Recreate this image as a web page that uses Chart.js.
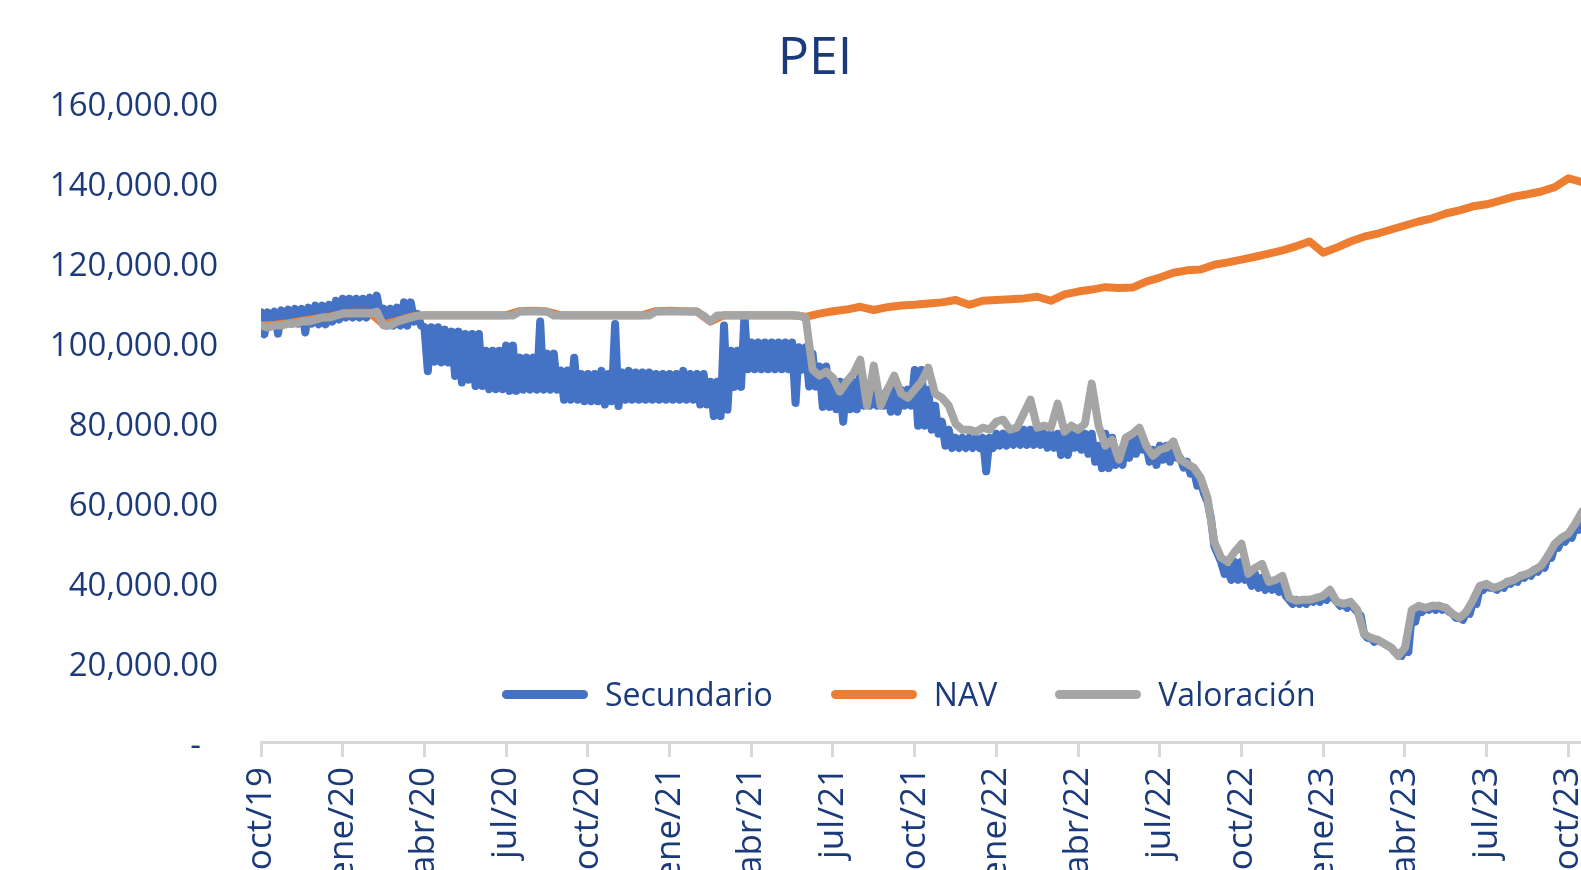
<!DOCTYPE html>
<html lang="es">
<head>
<meta charset="UTF-8">
<title>PEI</title>
<script src="https://cdn.jsdelivr.net/npm/chart.js"></script>
<style>
  html, body { margin: 0; padding: 0; background: #fff; overflow: hidden; }
  #wrap { position: relative; width: 1602px; height: 870px; }
  #legend { position: absolute; left: 502px; top: 672px; display: flex; align-items: center;
            font-family: 'Open Sans', sans-serif; font-size: 32px; color: #1b3a7a; line-height: 44px; }
  .item { display: flex; align-items: center; margin-right: 58px; }
  .swatch { width: 86px; height: 9px; border-radius: 5px; margin-right: 17px; }
</style>
</head>
<body>
<div id="wrap">
  <canvas id="peiChart"></canvas>
  <div id="legend"></div>
</div>
<script>
// eje x: meses desde oct/19, una marca por trimestre
const tickLabels = ['oct/19', 'ene/20', 'abr/20', 'jul/20', 'oct/20', 'ene/21', 'abr/21', 'jul/21', 'oct/21',
                    'ene/22', 'abr/22', 'jul/22', 'oct/22', 'ene/23', 'abr/23', 'jul/23', 'oct/23'];

// valores en miles, un dato por semana (0.25 mes)
const weekStep = 0.25;

// Secundario: máximo y mínimo de cada semana
const secundarioAlto = [
  107.3, 107.3, 107.5, 107.8,   108, 108.2, 108.2, 108.5,   109, 109, 109.2, 110.2,   110.7, 110.7, 110.7, 110.7,
  111, 111.5, 108.2, 108.2,   108.5, 109.8, 109.8, 106.9,   103.6, 103.6, 103.6, 103,   102.5, 102.5, 101.9, 101.9,
  101.9, 97.7, 97.7, 97.7,   99, 99, 96, 96,   96, 105, 97, 97,   92.8, 92.8, 96, 91.9,
  91.9, 91.9, 92.7, 91.9,   104.4, 92.3, 92.7, 92.3,   92.3, 92.3, 91.9, 91.9,   91.9, 91.9, 92.7, 91.9,
  91.9, 91.9, 90, 90,   104, 97.7, 97.7, 106.5,   99.8, 99.8, 99.8, 99.8,   99.8, 99.8, 99.8, 98.6,
  98.6, 97, 93.8, 93.8,   90, 90, 90, 90,   92, 88, 90, 87,   88, 88, 88, 88,
  92.9, 92.9, 88, 84,   80, 78, 76, 76,   76, 76, 76, 76,   77, 77, 77, 77,
  78, 78, 78, 77,   77, 77, 77, 77,   77, 77, 77, 74,   77, 76, 72, 74,
  76, 77, 74, 73,   74, 74, 75, 71,   70, 68, 65, 60,   49, 45, 43, 45,
  45, 41, 42, 41,   39.5, 40, 39.5, 35.5,   35.5, 35.5, 35.5, 36,   36.5, 37, 35, 34.5,
  34.5, 32.5, 27, 26,   25.5, 24.5, 23.5, 22,   23.5, 32, 33.5, 33.5,   34, 34, 33.5, 32,
  31, 32.5, 35, 38.5,   39, 38.5, 39, 40,   40.5, 41.5, 42, 43,   44, 46.5, 49, 50.5,
  51.5, 53.5, 57
];
const secundarioBajo = [
  101.8, 104, 102, 104.5,   104.5, 104.5, 102.3, 104.5,   104.3, 104.3, 105, 105.5,   106, 106, 106, 106,
  106.5, 107, 104, 104,   104, 104, 105, 104,   92.6, 95, 94.8, 94.8,   91.4, 89.8, 90.5, 88.9,
  88.9, 88.1, 88.1, 88.1,   87.7, 87.7, 88, 88,   88, 88, 88, 88,   85.5, 85.5, 85.5, 85.1,
  85.1, 85.1, 84.3, 85.1,   83.9, 85.5, 85.5, 85.5,   85.5, 85.5, 85.5, 85.5,   85.5, 85.5, 85.5, 85.5,
  84.3, 84.3, 81.4, 81.4,   83, 88.7, 88.7, 93.1,   93.1, 93.1, 93.1, 93.1,   93.1, 93.1, 84.7, 93,
  88.8, 88.8, 83.7, 83.7,   83.1, 80, 83.1, 83.1,   84, 84, 84, 84,   82.5, 82.5, 84, 84,
  79, 79, 78, 77,   74, 73.4, 73.4, 73.4,   73.4, 73.4, 67.6, 73.4,   74, 74, 74.2, 74.2,
  74.2, 74.2, 74.2, 73.5,   73.5, 71.7, 71.7, 73.5,   73, 72, 70, 68.4,   68.4, 69.2, 69.2, 71,
  72, 73, 70, 69.2,   70.5, 70, 71, 68.5,   67, 64, 62, 56,   47, 42, 40.5, 40.5,
  40.5, 39, 38.5, 38,   38, 37.5, 36.5, 34.5,   34.5, 34.5, 35, 35,   35.5, 36, 34, 33.5,
  33.5, 31.5, 26, 25,   25, 24, 22.5, 21.5,   22.5, 30, 32.5, 33,   33, 33, 32.5, 31,
  30.5, 32, 34.5, 38,   38.5, 38, 38.5, 39.5,   40, 41, 41.5, 42.5,   43.5, 46, 48.5, 50,
  51, 53, 56.5
];
const valoracion = [
  104, 103.5, 104, 104,   104.5, 104.5, 105, 105,   105.5, 106, 106, 106.5,   107, 107, 107, 107,
  107, 107.5, 104, 104,   105, 105.5, 106, 106.5,   106.5, 106.5, 106.5, 106.5,   106.5, 106.5, 106.5, 106.5,
  106.5, 106.5, 106.5, 106.5,   106.5, 106.5, 107.5, 107.5,   107.5, 107.5, 107.5, 106.5,   106.5, 106.5, 106.5, 106.5,
  106.5, 106.5, 106.5, 106.5,   106.5, 106.5, 106.5, 106.5,   106.5, 106.5, 107.5, 107.5,   107.5, 107.5, 107.5, 107.5,
  107.5, 106.5, 105, 106.5,   106.5, 106.5, 106.5, 106.5,   106.5, 106.5, 106.5, 106.5,   106.5, 106.5, 106.5, 106.5,
  106, 93, 91.5, 92.5,   91, 87.5, 90, 92,   95.5, 84, 94, 84,   88, 91.5, 87, 86,
  88, 90, 93.5, 87,   86, 84, 79.5, 78,   78, 77.5, 78.5, 78,   80, 80.5, 78, 78.5,
  82, 85.5, 78.5, 79,   78.5, 84.5, 77.5, 79,   78, 79.5, 89.5, 79,   74, 75.5, 70.5, 76,
  77, 78.5, 74, 71.5,   73, 73.5, 75, 70.5,   69.5, 68.5, 66, 61,   50, 46, 45, 47.5,
  49.5, 42, 43.5, 44.5,   40, 40.5, 41.5, 36,   35.3, 35.5, 35.5, 36,   36.5, 38, 35, 34.5,
  35, 33, 27, 26,   25.5, 24.5, 23.5, 21.5,   23.5, 33, 34, 33.5,   34, 34, 33.5, 32,
  31, 32.5, 35.5, 39,   39.5, 38.5, 39, 40,   40.5, 41.5, 42, 43,   44, 46.5, 49.5, 51,
  52, 54.5, 57.5
];

// NAV, un dato cada medio mes
const navStep = 0.5;
const nav = [
  104, 104.2, 104.6, 105.2, 105.7, 106.2, 107, 107.2, 107.2, 104.3,
  105.2, 106.2, 106.6, 106.6, 106.6, 106.6, 106.6, 106.6, 106.6, 107.6,
  107.7, 107.5, 106.6, 106.6, 106.6, 106.6, 106.6, 106.6, 106.6, 107.6,
  107.7, 107.6, 107.5, 105, 106.6, 106.6, 106.6, 106.6, 106.6, 106.6,
  106.2, 107, 107.6, 108, 108.7, 107.9, 108.6, 109, 109.2, 109.5,
  109.8, 110.4, 109.2, 110.2, 110.4, 110.6, 110.8, 111.2, 110.2, 111.8,
  112.5, 113, 113.6, 113.4, 113.5, 115, 116, 117.2, 117.8, 118,
  119.2, 119.8, 120.5, 121.2, 122, 122.8, 123.8, 125, 122.2, 123.5,
  125, 126.2, 127, 128, 129, 130, 130.8, 132, 132.8, 133.8,
  134.3, 135.2, 136.2, 136.8, 137.5, 138.6, 140.8, 139.8
];

const textColor = '#1b3a7a';
const fontFamily = "'Open Sans', sans-serif";

function toPoints(values, step) {
  return values.map((v, i) => ({ x: i * step, y: v * 1000 }));
}

// alterna máximo y mínimo de cada semana para dibujar la banda de ruido diario
function bandPoints(alto, bajo, step) {
  const pts = [];
  alto.forEach((v, i) => {
    pts.push({ x: i * step, y: v * 1000 });
    pts.push({ x: i * step + step / 2, y: bajo[i] * 1000 });
  });
  return pts;
}

function lineSet(label, points, color, order) {
  return {
    label: label,
    data: points,
    borderColor: color,
    backgroundColor: color,
    borderWidth: 8,
    pointRadius: 0,
    borderJoinStyle: 'round',
    borderCapStyle: 'round',
    tension: 0,
    order: order
  };
}

const chart = new Chart(document.getElementById('peiChart'), {
  type: 'line',
  data: {
    datasets: [
      lineSet('Secundario', bandPoints(secundarioAlto, secundarioBajo, weekStep), '#4472c4', 3),
      lineSet('NAV', toPoints(nav, navStep), '#ed7d31', 2),
      lineSet('Valoración', toPoints(valoracion, weekStep), '#a5a5a5', 1)
    ]
  },
  options: {
    responsive: true,
    maintainAspectRatio: false,
    animation: false,
    layout: { padding: { left: 48, right: 20, top: 0, bottom: 0 } },
    plugins: {
      legend: { display: false },
      tooltip: { enabled: false },
      title: {
        display: true,
        text: 'PEI',
        color: textColor,
        font: { family: fontFamily, size: 52, weight: 'normal' },
        padding: { top: 28, bottom: 11 }
      }
    },
    scales: {
      x: {
        type: 'linear',
        min: 0,
        max: 48.5,
        afterBuildTicks: s => { s.ticks = tickLabels.map((_, i) => ({ value: i * 3 })); },
        afterFit: s => { s.height = 128; s.paddingLeft = 0; s.paddingRight = 0; },
        grid: { drawOnChartArea: false, tickLength: 15, color: '#d9d9d9', lineWidth: 3 },
        border: { color: '#d9d9d9', width: 3 },
        ticks: {
          autoSkip: false,
          minRotation: 90,
          maxRotation: 90,
          padding: 10,
          color: textColor,
          font: { family: fontFamily, size: 35 },
          callback: (v, i) => tickLabels[i]
        }
      },
      y: {
        min: 0,
        max: 160000,
        afterFit: s => { s.width = 213; },
        grid: { display: false, drawTicks: false },
        border: { display: false },
        ticks: {
          stepSize: 20000,
          padding: 43,
          labelOffset: 5,
          color: textColor,
          font: { family: fontFamily, size: 33 },
          callback: v => v === 0 ? '-  ' : v.toLocaleString('en-US', { minimumFractionDigits: 2, maximumFractionDigits: 2 })
        }
      }
    }
  }
});

// leyenda dentro del área del gráfico, como en el original
const legendBox = document.getElementById('legend');
chart.data.datasets.forEach(ds => {
  const item = document.createElement('div');
  item.className = 'item';
  const sw = document.createElement('span');
  sw.className = 'swatch';
  sw.style.background = ds.borderColor;
  const txt = document.createElement('span');
  txt.textContent = ds.label;
  item.appendChild(sw);
  item.appendChild(txt);
  legendBox.appendChild(item);
});
</script>
</body>
</html>
